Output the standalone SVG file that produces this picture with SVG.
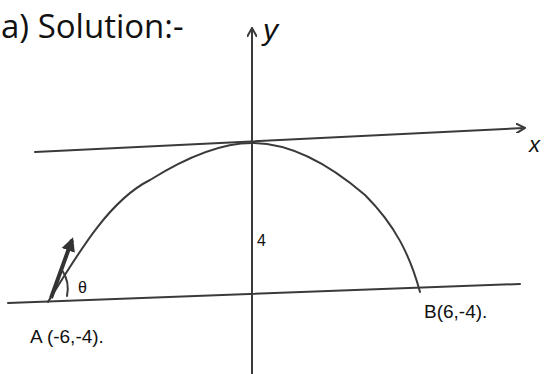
<svg xmlns="http://www.w3.org/2000/svg" width="554" height="374" viewBox="0 0 554 374">
<style>
.ln{fill:none;stroke:#3a3a3a;stroke-width:2;stroke-linecap:round}
.hw{font-family:"Liberation Sans",sans-serif;fill:#111}
</style>
<defs>
<marker id="ah" markerWidth="10" markerHeight="10" refX="8" refY="5" orient="auto" markerUnits="userSpaceOnUse">
<path d="M0,0 L9,5 L0,10" fill="none" stroke="#3a3a3a" stroke-width="2"/>
</marker>
<marker id="fa" markerWidth="16" markerHeight="16" refX="11" refY="8" orient="auto" markerUnits="userSpaceOnUse">
<path d="M0,1 L14,8 L0,15 Z" fill="#333"/>
</marker>
</defs>
<rect width="554" height="374" fill="#fff"/>
<text x="1" y="38" font-size="33" font-family="'Open Sans',sans-serif" fill="#111">a) Solution:-</text>
<g id="connectors">
<line id="yaxis" class="ln" x1="252" y1="374" x2="252" y2="29" marker-end="url(#ah)"/>
<line id="xaxis" class="ln" x1="35" y1="152" x2="524" y2="128" marker-end="url(#ah)"/>
<line id="ground" class="ln" x1="8" y1="303" x2="520" y2="284"/>
<path id="trajectory" class="ln" d="M48,302 C80,250 110,200 150,180 C190,155 225,143 252,143 C290,143 330,165 365,195 C395,225 410,255 420,292"/>
<line id="velocity" x1="51" y1="298" x2="72" y2="240" stroke="#333" stroke-width="4" marker-end="url(#fa)"/>
<path id="theta-arc" class="ln" d="M62,270 Q70,282 67,296"/>
</g>
<g id="label-y"><text class="hw" x="263" y="40" font-size="30" font-style="italic">y</text></g>
<g id="label-x"><text class="hw" x="529" y="152" font-size="22" font-style="italic">x</text></g>
<g id="label-theta"><text class="hw" x="78" y="293" font-size="16">θ</text></g>
<g id="label-4"><text class="hw" x="257" y="246" font-size="16">4</text></g>
<g id="label-A"><text class="hw" x="30" y="343" font-size="19">A (-6,-4).</text></g>
<g id="label-B"><text class="hw" x="424" y="318" font-size="19">B(6,-4).</text></g>
</svg>
